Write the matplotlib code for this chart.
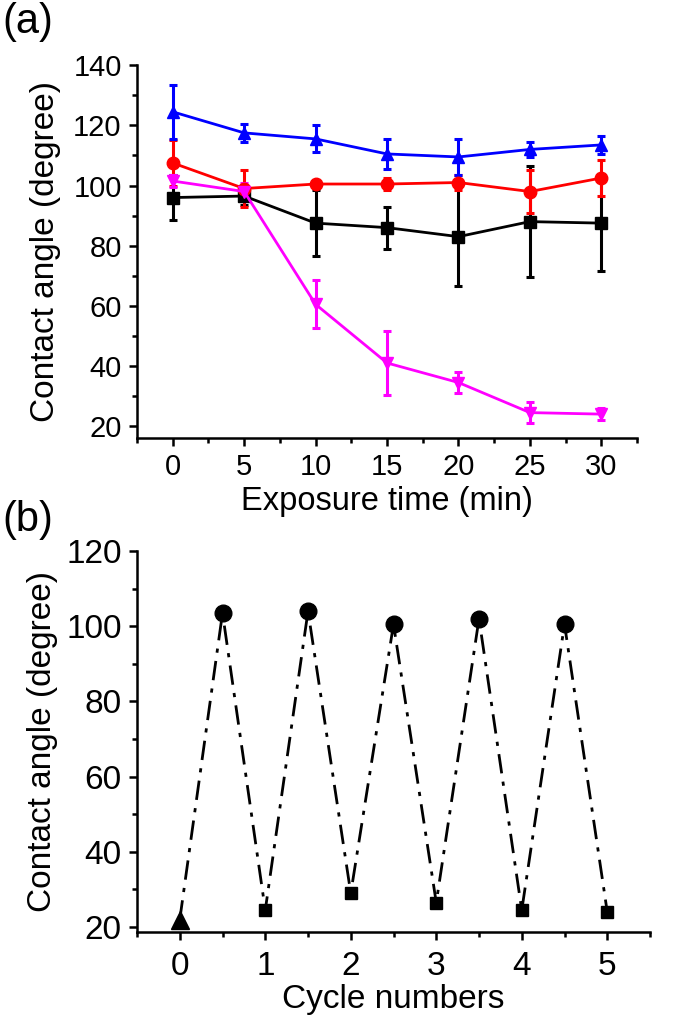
import matplotlib
matplotlib.use('Agg')
import matplotlib.pyplot as plt
from matplotlib.ticker import MultipleLocator

plt.rcParams['font.family'] = ['Liberation Sans', 'DejaVu Sans']

# Panel (a): contact angle vs exposure time
time_min = [0, 5, 10, 15, 20, 25, 30]
black_y = [96, 96.5, 87.5, 86, 83, 88, 87.5]
black_err = [7.5, 3, 11, 7, 16.5, 18.5, 16]
red_y = [107.5, 99, 100.5, 100.5, 101, 98, 102.5]
red_err = [7.5, 6, 1, 2, 2.5, 7, 6]
blue_y = [124.5, 117.5, 115.5, 110.5, 109.5, 112, 113.5]
blue_err = [9, 3, 4.5, 5, 6, 2.5, 3]
magenta_y = [101.5, 98, 60.5, 41, 34.5, 24.5, 24]
magenta_err = [2, 3, 8, 10.5, 3.5, 3.5, 2]

# Panel (b): cycling
cycle_x = [0, 0.5, 1, 1.5, 2, 2.5, 3, 3.5, 4, 4.5, 5]
cycle_y = [22, 103.5, 24.5, 104, 29, 100.5, 26.5, 102, 24.5, 100.5, 24]

fig = plt.figure(figsize=(6.79, 10.19), dpi=100)
fig.set_facecolor('white')

ax1 = fig.add_axes([0.2018, 0.570, 0.7364, 0.366])
ax2 = fig.add_axes([0.2018, 0.0854, 0.7555, 0.3739])


def style_axes(ax, labelsize):
    # Only left and bottom spines, ticks pointing out
    for side in ['top', 'right']:
        ax.spines[side].set_visible(False)
    for side in ['left', 'bottom']:
        ax.spines[side].set_linewidth(1.8)
    ax.tick_params(which='major', direction='out', length=6, width=1.8,
                   labelsize=labelsize, pad=5)
    ax.tick_params(which='minor', direction='out', length=3.5, width=1.8)


series = [
    (black_y, black_err, 'black', 's'),
    (red_y, red_err, 'red', 'o'),
    (blue_y, blue_err, 'blue', '^'),
    (magenta_y, magenta_err, 'magenta', 'v'),
]
for y, err, col, mk in series:
    ax1.errorbar(time_min, y, yerr=err, color=col, marker=mk, markersize=9,
                 linewidth=2, elinewidth=2.2, capsize=3, capthick=2.2)

ax1.set_xlim(-2.5, 32.5)
ax1.set_ylim(16, 140)
ax1.xaxis.set_major_locator(MultipleLocator(5))
ax1.xaxis.set_minor_locator(MultipleLocator(2.5))
ax1.yaxis.set_major_locator(MultipleLocator(20))
ax1.yaxis.set_minor_locator(MultipleLocator(10))
style_axes(ax1, 21)
ax1.set_xlabel('Exposure time (min)', fontsize=23.5, labelpad=3)
ax1.set_ylabel('Contact angle (degree)', fontsize=24, labelpad=9)

ax2.plot(cycle_x, cycle_y, color='black', linestyle=(0, (7, 3, 1.5, 3)),
         linewidth=2)
ax2.plot(cycle_x[0], cycle_y[0], linestyle='none', marker='^', color='black',
         markersize=13)
ax2.plot(cycle_x[1::2], cycle_y[1::2], linestyle='none', marker='o',
         color='black', markersize=12)
ax2.plot(cycle_x[2::2], cycle_y[2::2], linestyle='none', marker='s',
         color='black', markersize=8)

ax2.set_xlim(-0.5, 5.5)
ax2.set_ylim(18.7, 120)
ax2.xaxis.set_major_locator(MultipleLocator(1))
ax2.xaxis.set_minor_locator(MultipleLocator(0.5))
ax2.yaxis.set_major_locator(MultipleLocator(20))
ax2.yaxis.set_minor_locator(MultipleLocator(10))
style_axes(ax2, 24)
ax2.tick_params(which='major', axis='x', pad=8)
ax2.set_xlabel('Cycle numbers', fontsize=24, labelpad=1)
ax2.set_ylabel('Contact angle (degree)', fontsize=24, labelpad=6)

fig.text(0.003, 0.978, '(a)', fontsize=30, va='center', ha='left')
fig.text(0.003, 0.490, '(b)', fontsize=30, va='center', ha='left')

fig.savefig('out.png', dpi=100, facecolor='white')
